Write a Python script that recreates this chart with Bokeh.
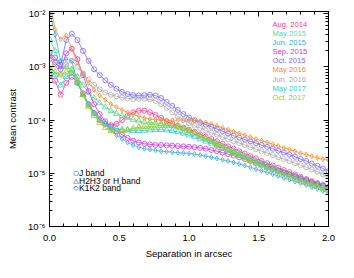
from bokeh.plotting import figure
from bokeh.models import (Label, LogAxis, LinearAxis, FixedTicker, CustomJSTickFormatter,
                          NumeralTickFormatter)
from bokeh.embed import file_html
from bokeh.resources import INLINE

sep = [0.00,0.04,0.08,0.12,0.16,0.20,0.24,0.28,0.32,0.36,0.40,0.44,0.48,0.52,0.56,0.60,0.64,0.68,0.72,0.76,
       0.80,0.84,0.88,0.92,0.96,1.00,1.04,1.08,1.12,1.16,1.20,1.24,1.28,1.32,1.36,1.40,1.44,1.48,1.52,1.56,
       1.60,1.64,1.68,1.72,1.76,1.80,1.84,1.88,1.92,1.96,2.00]

aug2014 = [7.0e-4, 5.5e-4, 3.0e-4, 5.0e-4, 6.5e-4, 5.0e-4, 3.2e-4, 2.0e-4, 1.35e-4, 1.0e-4,
           8.5e-5, 8.0e-5, 8.5e-5, 1.0e-4, 1.2e-4, 1.4e-4, 1.5e-4, 1.5e-4, 1.4e-4, 1.25e-4,
           1.1e-4, 9.5e-5, 8.5e-5, 7.8e-5, 7.2e-5, 6.6e-5, 6.0e-5, 5.4e-5, 4.9e-5, 4.4e-5,
           4.0e-5, 3.6e-5, 3.2e-5, 2.9e-5, 2.6e-5, 2.35e-5, 2.1e-5, 1.9e-5, 1.7e-5, 1.55e-5,
           1.4e-5, 1.27e-5, 1.15e-5, 1.05e-5, 9.5e-6, 8.6e-6, 7.8e-6, 7.1e-6, 6.5e-6, 6.0e-6,
           5.5e-6]
may2015 = [3.3e-3, 2.0e-3, 1.0e-3, 1.0e-3, 9.0e-4, 6.5e-4, 4.5e-4, 3.3e-4, 2.6e-4, 2.1e-4,
           1.75e-4, 1.5e-4, 1.32e-4, 1.2e-4, 1.1e-4, 1.02e-4, 9.6e-5, 9.2e-5, 9.0e-5, 8.8e-5,
           8.6e-5, 8.3e-5, 7.9e-5, 7.4e-5, 6.8e-5, 6.2e-5, 5.6e-5, 5.0e-5, 4.5e-5, 4.0e-5,
           3.6e-5, 3.25e-5, 2.9e-5, 2.6e-5, 2.35e-5, 2.1e-5, 1.9e-5, 1.7e-5, 1.55e-5, 1.4e-5,
           1.27e-5, 1.15e-5, 1.05e-5, 9.6e-6, 8.8e-6, 8.1e-6, 7.4e-6, 6.8e-6, 6.3e-6, 5.8e-6,
           5.3e-6]
jun2015 = [1.1e-2, 4.0e-3, 1.3e-3, 1.4e-3, 1.3e-3, 5.0e-4, 3.0e-4, 2.0e-4, 1.4e-4, 1.05e-4,
           8.5e-5, 6.5e-5, 5.2e-5, 4.4e-5, 3.8e-5, 3.4e-5, 3.1e-5, 2.9e-5, 2.8e-5, 2.7e-5,
           2.6e-5, 2.55e-5, 2.5e-5, 2.45e-5, 2.4e-5, 2.35e-5, 2.3e-5, 2.2e-5, 2.1e-5, 2.0e-5,
           1.9e-5, 1.8e-5, 1.7e-5, 1.6e-5, 1.5e-5, 1.4e-5, 1.3e-5, 1.2e-5, 1.12e-5, 1.04e-5,
           9.6e-6, 8.9e-6, 8.2e-6, 7.6e-6, 7.0e-6, 6.5e-6, 6.0e-6, 5.5e-6, 5.1e-6, 4.7e-6,
           4.3e-6]
sep2015 = [1.6e-3, 1.2e-3, 9.0e-4, 1.8e-3, 2.2e-3, 1.4e-3, 7.0e-4, 3.5e-4, 2.0e-4, 1.3e-4,
           9.5e-5, 7.5e-5, 6.2e-5, 5.3e-5, 4.6e-5, 4.1e-5, 3.8e-5, 3.6e-5, 3.5e-5, 3.4e-5,
           3.4e-5, 3.35e-5, 3.3e-5, 3.25e-5, 3.2e-5, 3.15e-5, 3.1e-5, 3.0e-5, 2.9e-5, 2.75e-5,
           2.6e-5, 2.45e-5, 2.3e-5, 2.15e-5, 2.0e-5, 1.85e-5, 1.7e-5, 1.57e-5, 1.45e-5, 1.33e-5,
           1.22e-5, 1.12e-5, 1.03e-5, 9.5e-6, 8.7e-6, 8.0e-6, 7.4e-6, 6.8e-6, 6.3e-6, 5.9e-6,
           5.5e-6]
oct2015 = [1.8e-3, 1.5e-3, 1.1e-3, 3.2e-3, 4.2e-3, 3.2e-3, 2.0e-3, 1.3e-3, 9.0e-4, 7.0e-4,
           5.6e-4, 4.6e-4, 3.9e-4, 3.4e-4, 3.1e-4, 2.95e-4, 2.9e-4, 2.95e-4, 3.0e-4, 2.9e-4,
           2.6e-4, 2.2e-4, 1.85e-4, 1.55e-4, 1.3e-4, 1.12e-4, 1.0e-4, 9.0e-5, 8.2e-5, 7.5e-5,
           6.8e-5, 6.2e-5, 5.6e-5, 5.1e-5, 4.7e-5, 4.3e-5, 4.0e-5, 3.7e-5, 3.4e-5, 3.15e-5,
           2.9e-5, 2.65e-5, 2.45e-5, 2.25e-5, 2.05e-5, 1.85e-5, 1.7e-5, 1.52e-5, 1.38e-5, 1.23e-5,
           1.1e-5]
may2016 = [2.0e-2, 5.0e-3, 3.3e-3, 3.9e-3, 2.2e-3, 1.2e-3, 7.5e-4, 5.0e-4, 3.7e-4, 2.9e-4,
           2.4e-4, 2.0e-4, 1.75e-4, 1.55e-4, 1.4e-4, 1.28e-4, 1.18e-4, 1.1e-4, 1.05e-4, 1.02e-4,
           1.0e-4, 9.9e-5, 9.9e-5, 1.0e-4, 1.0e-4, 1.0e-4, 9.8e-5, 9.5e-5, 9.0e-5, 8.4e-5,
           7.8e-5, 7.2e-5, 6.6e-5, 6.1e-5, 5.6e-5, 5.2e-5, 4.8e-5, 4.4e-5, 4.1e-5, 3.8e-5,
           3.5e-5, 3.25e-5, 3.0e-5, 2.8e-5, 2.6e-5, 2.4e-5, 2.25e-5, 2.1e-5, 1.95e-5, 1.85e-5,
           1.75e-5]
jun2016 = [1.4e-3, 1.1e-3, 7.5e-4, 1.1e-3, 1.3e-3, 1.0e-3, 7.5e-4, 5.8e-4, 4.6e-4, 3.8e-4,
           3.3e-4, 3.0e-4, 2.8e-4, 2.65e-4, 2.55e-4, 2.5e-4, 2.5e-4, 2.5e-4, 2.45e-4, 2.3e-4,
           2.0e-4, 1.7e-4, 1.4e-4, 1.18e-4, 1.0e-4, 8.8e-5, 7.9e-5, 7.1e-5, 6.4e-5, 5.8e-5,
           5.3e-5, 4.8e-5, 4.4e-5, 4.0e-5, 3.7e-5, 3.4e-5, 3.1e-5, 2.85e-5, 2.6e-5, 2.4e-5,
           2.2e-5, 2.0e-5, 1.85e-5, 1.7e-5, 1.55e-5, 1.42e-5, 1.3e-5, 1.18e-5, 1.07e-5, 9.6e-6,
           8.6e-6]
may2017 = [9.0e-4, 7.0e-4, 4.5e-4, 6.5e-4, 7.5e-4, 5.0e-4, 3.0e-4, 1.9e-4, 1.3e-4, 1.0e-4,
           8.5e-5, 7.5e-5, 7.0e-5, 6.6e-5, 6.4e-5, 6.3e-5, 6.3e-5, 6.4e-5, 6.5e-5, 6.6e-5,
           6.6e-5, 6.5e-5, 6.3e-5, 6.0e-5, 5.6e-5, 5.2e-5, 4.8e-5, 4.4e-5, 4.0e-5, 3.65e-5,
           3.3e-5, 3.0e-5, 2.7e-5, 2.45e-5, 2.2e-5, 2.0e-5, 1.8e-5, 1.62e-5, 1.47e-5, 1.33e-5,
           1.2e-5, 1.1e-5, 1.0e-5, 9.2e-6, 8.4e-6, 7.7e-6, 7.0e-6, 6.4e-6, 5.9e-6, 5.4e-6,
           5.0e-6]
oct2017 = [9.5e-4, 8.0e-4, 7.0e-4, 8.0e-4, 8.5e-4, 5.5e-4, 3.0e-4, 1.8e-4, 1.2e-4, 9.0e-5,
           7.2e-5, 6.3e-5, 6.0e-5, 6.2e-5, 6.6e-5, 7.0e-5, 7.3e-5, 7.5e-5, 7.6e-5, 7.7e-5,
           7.8e-5, 7.9e-5, 7.9e-5, 7.6e-5, 7.0e-5, 6.3e-5, 5.6e-5, 5.0e-5, 4.4e-5, 3.9e-5,
           3.45e-5, 3.05e-5, 2.7e-5, 2.4e-5, 2.15e-5, 1.92e-5, 1.72e-5, 1.55e-5, 1.4e-5, 1.27e-5,
           1.15e-5, 1.05e-5, 9.6e-6, 8.8e-6, 8.1e-6, 7.4e-6, 6.8e-6, 6.2e-6, 5.7e-6, 5.2e-6,
           4.8e-6]

epochs = ["Aug. 2014", "May 2015", "Jun. 2015", "Sep. 2015", "Oct. 2015",
          "May 2016", "Jun. 2016", "May 2017", "Oct. 2017"]
series = [aug2014, may2015, jun2015, sep2015, oct2015, may2016, jun2016, may2017, oct2017]
colors = ["#FF3399", "#55DD88", "#33AAEE", "#CC33EE", "#7766FF",
          "#FF8822", "#AAAAAA", "#33CCCC", "#99CC22"]
markers = ["circle", "triangle", "diamond", "circle", "circle",
           "diamond", "circle", "triangle", "triangle"]
band_labels = ["J band", "H2H3 or H band", "K1K2 band"]
band_symbols = ["\u25CB", "\u25B3", "\u25C7"]
x_ticks = [0.0, 0.5, 1.0, 1.5, 2.0]
y_ticks = [1e-6, 1e-5, 1e-4, 1e-3, 1e-2]

FONT = "Liberation Sans"

p = figure(width=338, height=262, x_range=(0, 2), y_range=(1e-6, 1.1e-2),
           y_axis_type="log", output_backend="svg", toolbar_location=None,
           min_border_left=49, min_border_right=10, min_border_top=11, min_border_bottom=36)
p.xgrid.visible = False
p.ygrid.visible = False
p.outline_line_color = "black"
p.background_fill_color = "white"
p.border_fill_color = "white"

minor_y = [m * d for d in [1e-6, 1e-5, 1e-4, 1e-3] for m in range(2, 10)]
sup_js = """
const sup = {"-":"\u207B","0":"\u2070","1":"\u00B9","2":"\u00B2","3":"\u00B3","4":"\u2074",
             "5":"\u2075","6":"\u2076","7":"\u2077","8":"\u2078","9":"\u2079"};
const e = Math.round(Math.log10(tick)).toString();
let s = "";
for (const c of e) { s += sup[c]; }
return "10" + s;
"""
blank_js = "return '';"

def style_axis(ax):
    ax.axis_line_color = "black"
    ax.major_tick_in = 5
    ax.major_tick_out = 0
    ax.minor_tick_in = 3
    ax.minor_tick_out = 0
    ax.major_tick_line_color = "black"
    ax.minor_tick_line_color = "black"
    ax.major_label_text_font = FONT
    ax.major_label_text_font_size = "9.5px"
    ax.major_label_text_color = "black"
    ax.axis_label_text_font = FONT
    ax.axis_label_text_font_size = "9.5px"
    ax.axis_label_text_font_style = "normal"
    ax.axis_label_text_color = "black"

xt = FixedTicker(ticks=x_ticks, minor_ticks=[i / 10 for i in range(21)])
yt = FixedTicker(ticks=y_ticks, minor_ticks=minor_y)

xa = p.xaxis[0]
xa.ticker = xt
xa.formatter = NumeralTickFormatter(format="0.0")
xa.axis_label = "Separation in arcsec"
style_axis(xa)
xa.major_label_standoff = 8
xa.axis_label_standoff = 4

ya = p.yaxis[0]
ya.ticker = yt
ya.formatter = CustomJSTickFormatter(code=sup_js)
ya.axis_label = "Mean contrast"
style_axis(ya)
ya.major_label_standoff = 4
ya.axis_label_standoff = 7

top = LinearAxis(ticker=xt, formatter=CustomJSTickFormatter(code=blank_js))
style_axis(top)
top.major_label_standoff = 0
p.add_layout(top, "above")
right = LogAxis(ticker=yt, formatter=CustomJSTickFormatter(code=blank_js))
style_axis(right)
right.major_label_standoff = 0
p.add_layout(right, "right")

for vals, col, mk in zip(series, colors, markers):
    p.line(sep, vals, line_color=col, line_width=0.8)
    sz = 5 if mk == "circle" else (6 if mk == "triangle" else 5)
    p.scatter(sep, vals, marker=mk, size=sz, line_color=col, fill_color=None, line_width=0.8)

# epoch legend (top right), positions in frame pixels
for i, (name, col) in enumerate(zip(epochs, colors)):
    p.add_layout(Label(x=223, y=202.5 - i * 9.19, x_units="screen", y_units="screen",
                       text=name, text_color=col, text_font=FONT, text_font_size="7.6px",
                       text_baseline="middle", text_align="left"))

# band legend (bottom left)
for i, (sym, name) in enumerate(zip(band_symbols, band_labels)):
    yy = 53.5 - i * 7.5
    p.add_layout(Label(x=26.5, y=yy, x_units="screen", y_units="screen", text=sym,
                       text_color="black", text_font="DejaVu Sans", text_font_size="6.5px",
                       text_baseline="middle", text_align="center"))
    p.add_layout(Label(x=29.5, y=yy, x_units="screen", y_units="screen", text=name,
                       text_color="black", text_font=FONT, text_font_size="8.5px",
                       text_baseline="middle", text_align="left"))

open("out.html", "w").write(file_html(p, INLINE))
